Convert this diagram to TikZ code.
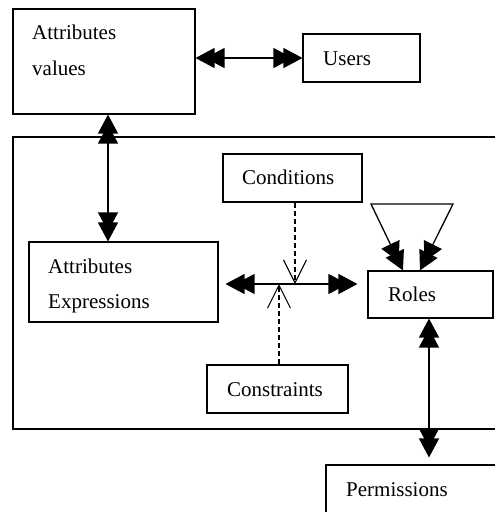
\documentclass[tikz,border=0pt]{standalone}
\usepackage{fontspec}
\setmainfont{Liberation Serif}
\usetikzlibrary{arrows.meta}
\begin{document}
\begin{tikzpicture}[x=1pt,y=-1pt,
  box/.style={draw,line width=1.1pt,inner sep=0pt,minimum width=#1},
  lbl/.style={anchor=base west,inner sep=0pt,font=\fontsize{21}{21}\selectfont},
  dh/.tip={Triangle[length=19pt,width=20pt,sep=-9pt]Triangle[length=19pt,width=20pt]},
  dbl/.style={line width=1.3pt,{dh}-{dh}},
  dsh/.style={line width=1.1pt,dash pattern=on 5pt off 3pt,-{Straight Barb[length=23pt,width=23pt,line width=1.1pt]}}]
\useasboundingbox (0,0) rectangle (495,512);
% boxes
\node[box=182pt,minimum height=105pt] (av) at (104,61.5) {};
\node[box=117pt,minimum height=48pt] (users) at (361.5,58) {};
\node[box=497pt,minimum height=292pt] (frame) at (261.5,283) {};
\node[box=139pt,minimum height=48pt] (cond) at (292.5,178) {};
\node[box=189pt,minimum height=80pt] (ae) at (123.5,282) {};
\node[box=125pt,minimum height=47pt] (roles) at (430.5,294.5) {};
\node[box=141pt,minimum height=48pt] (cons) at (277.5,389) {};
\node[box=184pt,minimum height=65pt] (perm) at (418,497.5) {};
% texts
\node[lbl] (tav1) at (32,39) {Attributes};
\node[lbl] (tav2) at (32,75) {values};
\node[lbl] (tus) at (323,65) {Users};
\node[lbl] (tco) at (242,184) {Conditions};
\node[lbl] (tae1) at (48,273) {Attributes};
\node[lbl] (tae2) at (48,308) {Expressions};
\node[lbl] (tro) at (388,301) {Roles};
\node[lbl] (tcs) at (227,396) {Constraints};
\node[lbl] (tpe) at (346,496) {Permissions};
% helper coordinates
\coordinate (hy) at (0,284);
\coordinate (t1) at (371,204);
\coordinate (t2) at (453,204);
% connectors
\draw[dbl] (users.west -| av.east) -- (users.west);
\draw[dbl] ([xshift=4pt]av.south) -- ([xshift=4pt]av.south |- ae.north);
\draw[dbl] ([xshift=7pt]ae.east |- hy) -- ([xshift=-10pt]roles.west |- hy);
\draw[dsh] ([xshift=2.5pt]cond.south) -- ([xshift=2.5pt]cond.south |- hy);
\draw[dsh] ([xshift=1.5pt]cons.north) -- ([xshift=1.5pt]cons.north |- hy);
\draw[dbl] ([xshift=-27.5pt]roles.north) -- (t1) -- (t2) -- ([xshift=-10.5pt]roles.north);
\draw[dbl,shorten >=7pt] ([xshift=-1.5pt]roles.south) -- ([xshift=-1.5pt]roles.south |- perm.north);
\end{tikzpicture}
\end{document}
